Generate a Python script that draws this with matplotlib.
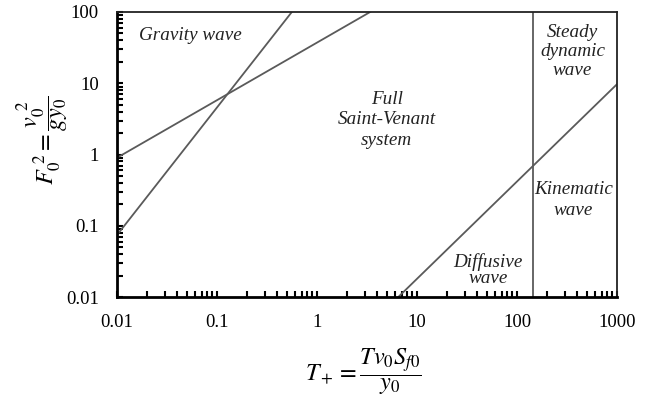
import matplotlib
matplotlib.use("Agg")
import matplotlib.pyplot as plt
from matplotlib.ticker import LogLocator, FixedLocator, NullFormatter

plt.rcParams['font.family'] = ['Liberation Serif', 'DejaVu Serif']
plt.rcParams['mathtext.fontset'] = 'stix'

# Boundary lines (T+, F0^2)
gravity_x = [0.01, 3.4]
gravity_y = [0.9, 100]
steep_x = [0.01, 0.56]
steep_y = [0.074, 100]
diffusive_x = [6.5, 1000]
diffusive_y = [0.01, 9.7]
kinematic_T = 145
y_range = [0.01, 100]

x_ticks = [0.01, 0.1, 1, 10, 100, 1000]
x_labels = ['0.01', '0.1', '1', '10', '100', '1000']
y_ticks = [0.01, 0.1, 1, 10, 100]
y_labels = ['0.01', '0.1', '1', '10', '100']

region_labels = [
    ("Gravity wave", 0.054, 47.5, 1.2),
    ("Full\nSaint-Venant\nsystem", 4.97, 3.05, 1.25),
    ("Steady\ndynamic\nwave", 360, 27.5, 1.15),
    ("Kinematic\nwave", 365, 0.23, 1.25),
    ("Diffusive\nwave", 51.5, 0.024, 0.95),
]

fig = plt.figure(figsize=(6.5, 4.03), dpi=100)
ax = fig.add_axes([117/650, 1-297/403, 500/650, 285/403])

lc = '#5a5a5a'
ax.plot(gravity_x, gravity_y, color=lc, lw=1.3)
ax.plot(steep_x, steep_y, color=lc, lw=1.3)
ax.plot(diffusive_x, diffusive_y, color=lc, lw=1.3)
ax.plot([kinematic_T, kinematic_T], y_range, color=lc, lw=1.3)

ax.set_xscale('log')
ax.set_yscale('log')
ax.set_xlim(0.01, 1000)
ax.set_ylim(0.01, 100)

ax.xaxis.set_major_locator(FixedLocator(x_ticks))
ax.set_xticklabels(x_labels)
ax.yaxis.set_major_locator(FixedLocator(y_ticks))
ax.set_yticklabels(y_labels)
ax.xaxis.set_minor_locator(LogLocator(base=10, subs=range(2, 10)))
ax.yaxis.set_minor_locator(LogLocator(base=10, subs=range(2, 10)))
ax.xaxis.set_minor_formatter(NullFormatter())
ax.yaxis.set_minor_formatter(NullFormatter())

ax.tick_params(which='both', direction='in', top=False, right=False,
               labelsize=13.5, width=1.5, color='black')
ax.tick_params(axis='y', which='major', length=4, pad=13)
ax.tick_params(axis='x', which='major', length=4, pad=12)
ax.tick_params(which='minor', length=4)

for s in ['left', 'bottom']:
    ax.spines[s].set_linewidth(2.0)
for s in ['top', 'right']:
    ax.spines[s].set_linewidth(1.3)
    ax.spines[s].set_color('#222222')

for txt, x, y, ls in region_labels:
    ax.text(x, y, txt, ha='center', va='center', fontsize=13.8,
            style='italic', linespacing=ls, color='#222222')

fig.text(363/650, 1-372/403, r'$T_+ = \dfrac{T v_0 S_{f0}}{y_0}$',
         ha='center', va='center', fontsize=17.5)
fig.text(43/650, 1-140/403, r'$F_0^{\ 2} = \dfrac{v_0^{\ 2}}{g y_0}$',
         ha='center', va='center', fontsize=17.5, rotation=90)

fig.savefig('out.png', dpi=100)
